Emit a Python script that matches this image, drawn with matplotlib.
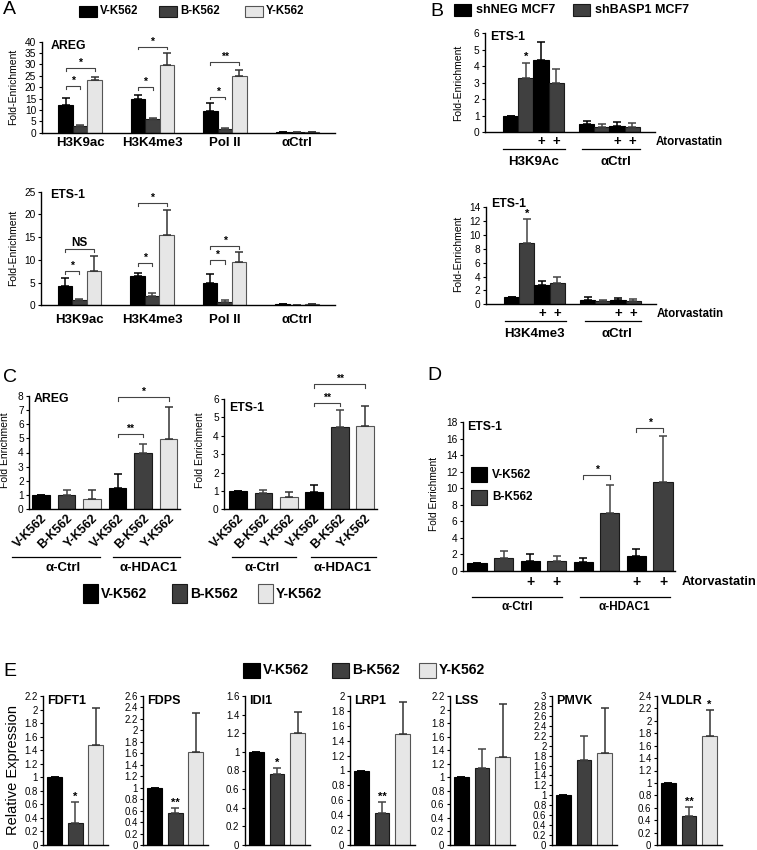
import numpy as np
import matplotlib
matplotlib.use('Agg')
import matplotlib.pyplot as plt
from matplotlib.patches import Rectangle
from matplotlib.ticker import MultipleLocator, FuncFormatter

plt.rcParams['font.family'] = ['Liberation Sans', 'DejaVu Sans']

W, H = 757, 850
BLACK = '#000000'
DARK = '#404040'
LIGHT = '#e6e6e6'

# ---------------- data ----------------
cells = ['V-K562', 'B-K562', 'Y-K562']

# A: ChIP at AREG / ETS-1 (upper error only)
a_groups = ['H3K9ac', 'H3K4me3', 'Pol II', 'αCtrl']
areg_v = [12.2, 14.7, 9.7, 0.4]
areg_v_err = [2.9, 1.9, 3.5, 0.0]
areg_b = [2.9, 5.9, 1.6, 0.4]
areg_b_err = [0.4, 0.7, 0.3, 0.0]
areg_y = [23.2, 29.8, 25.1, 0.45]
areg_y_err = [1.4, 5.4, 2.5, 0.0]
areg_sig = [(0, 'VB', 20.5, '*'), (0, 'VY', 28.3, '*'), (1, 'VB', 20.0, '*'),
            (1, 'VY', 37.8, '*'), (2, 'VB', 15.8, '*'), (2, 'VY', 31.0, '**')]

ets_v = [4.2, 6.4, 4.8, 0.2]
ets_v_err = [1.8, 0.8, 2.0, 0.0]
ets_b = [1.1, 2.1, 0.8, 0.1]
ets_b_err = [0.2, 0.5, 0.3, 0.0]
ets_y = [7.6, 15.4, 9.6, 0.3]
ets_y_err = [3.2, 5.5, 2.1, 0.0]
ets_sig = [(0, 'VB', 7.6, '*'), (0, 'VY', 12.4, 'NS'), (1, 'VB', 9.4, '*'),
           (1, 'VY', 22.5, '*'), (2, 'VB', 9.9, '*'), (2, 'VY', 13.1, '*')]

# B: shNEG / shBASP1 MCF7, +/- atorvastatin
b_cells = ['shNEG', 'shBASP1', 'shNEG', 'shBASP1', 'shNEG', 'shBASP1', 'shNEG', 'shBASP1']
b_atorva = ['', '', '+', '+', '', '', '+', '+']
b_groups_top = ['H3K9Ac', 'αCtrl']
b_groups_bot = ['H3K4me3', 'αCtrl']
b_top_vals = [1.0, 3.27, 4.36, 2.99, 0.48, 0.34, 0.40, 0.34]
b_top_errs = [0.0, 0.91, 1.14, 0.86, 0.22, 0.14, 0.22, 0.20]
b_bot_vals = [1.0, 8.9, 2.8, 3.1, 0.62, 0.45, 0.55, 0.50]
b_bot_errs = [0.0, 3.4, 0.6, 0.9, 0.38, 0.17, 0.30, 0.30]

# C: HDAC1 ChIP
c_labels = ['V-K562', 'B-K562', 'Y-K562', 'V-K562', 'B-K562', 'Y-K562']
c_groups = ['α-Ctrl', 'α-HDAC1']
c_areg_vals = [1.0, 0.98, 0.75, 1.5, 3.95, 4.95]
c_areg_errs = [0.0, 0.40, 0.58, 1.02, 0.67, 2.27]
c_ets_vals = [1.0, 0.88, 0.65, 0.93, 4.45, 4.55]
c_ets_errs = [0.0, 0.17, 0.30, 0.40, 0.93, 1.05]

# D: HDAC1 ChIP at ETS-1, +/- atorvastatin
d_cells = ['V-K562', 'B-K562'] * 4
d_atorva = ['', '', '+', '+', '', '', '+', '+']
d_groups = ['α-Ctrl', 'α-HDAC1']
d_vals = [1.0, 1.6, 1.2, 1.25, 1.1, 7.0, 1.8, 10.7]
d_errs = [0.0, 0.85, 0.85, 0.55, 0.5, 3.4, 0.85, 5.6]

# E: relative expression
e_genes = ['FDFT1', 'FDPS', 'IDI1', 'LRP1', 'LSS', 'PMVK', 'VLDLR']
e_ymax = [2.2, 2.6, 1.6, 2.0, 2.2, 3.0, 2.4]
e_v = [1.0, 1.0, 1.0, 1.0, 1.0, 1.0, 1.0]
e_b = [0.33, 0.55, 0.76, 0.43, 1.14, 1.72, 0.47]
e_b_err = [0.30, 0.10, 0.07, 0.15, 0.28, 0.48, 0.15]
e_y = [1.47, 1.63, 1.20, 1.49, 1.30, 1.85, 1.75]
e_y_err = [0.55, 0.67, 0.23, 0.43, 0.78, 0.90, 0.42]
e_b_sig = ['*', '**', '*', '**', '', '', '**']
e_y_sig = ['', '', '', '', '', '', '*']

cell_color = {'V-K562': BLACK, 'B-K562': DARK, 'Y-K562': LIGHT,
              'shNEG': BLACK, 'shBASP1': DARK}
cell_edge = {'V-K562': BLACK, 'B-K562': '#1a1a1a', 'Y-K562': '#555555',
             'shNEG': BLACK, 'shBASP1': '#1a1a1a'}
cell_ecol = {'V-K562': BLACK, 'B-K562': '#444444', 'Y-K562': '#333333',
             'shNEG': BLACK, 'shBASP1': '#444444'}

fig = plt.figure(figsize=(W / 100, H / 100), dpi=100)


def add_px(left, right, top, bottom):
    return fig.add_axes([left / W, 1 - bottom / H, (right - left) / W, (bottom - top) / H])


def ftext(x, y, s, **kw):
    fig.text(x / W, 1 - y / H, s, **kw)


def square(x, y, w, h, color, edge):
    fig.patches.append(Rectangle((x / W, 1 - (y + h) / H), w / W, h / H,
                                 transform=fig.transFigure, facecolor=color,
                                 edgecolor=edge, linewidth=0.8))


def below(ax, px):
    return -px / (ax.get_position().height * H)


def style(ax, ymax, step, fs=7.3, fmt=None):
    for s in ['top', 'right']:
        ax.spines[s].set_visible(False)
    ax.spines['left'].set_linewidth(1.0)
    ax.spines['bottom'].set_linewidth(1.0)
    ax.set_ylim(0, ymax)
    ax.yaxis.set_major_locator(MultipleLocator(step))
    if fmt:
        ax.yaxis.set_major_formatter(FuncFormatter(fmt))
    ax.tick_params(axis='y', length=2.5, width=0.8, labelsize=fs, pad=1.5)
    ax.tick_params(axis='x', length=0)


def bars(ax, x, vals, errs, cell, width):
    ax.bar(x, vals, width, color=cell_color[cell], edgecolor=cell_edge[cell],
           linewidth=0.8, zorder=2,
           yerr=[np.zeros(len(errs)), errs],
           error_kw=dict(ecolor=cell_ecol[cell], elinewidth=1.1, capsize=3, capthick=1.1))


def bracket(ax, x1, x2, y, label, fs=7.5):
    h = ax.get_ylim()[1] * 0.03
    ax.plot([x1, x1, x2, x2], [y - h, y, y, y - h], color='#444444', lw=0.8,
            clip_on=False, zorder=3)
    ax.text((x1 + x2) / 2, y, label, ha='center', va='bottom', fontsize=fs,
            fontweight='bold')


def title(ax, s, fs=8.8, dx=0.03, y=1.02):
    ax.text(dx, y, s, transform=ax.transAxes, ha='left', va='top',
            fontsize=fs, fontweight='bold')


# ---------------- panel A ----------------
ftext(3, 10, 'A', fontsize=14, va='center')
for x, lab, c in [(79, 'V-K562', 'V-K562'), (159, 'B-K562', 'B-K562'), (245, 'Y-K562', 'Y-K562')]:
    square(x, 6, 18, 11, cell_color[c], cell_edge[c])
    ftext(x + 21, 11.5, lab, fontsize=8.3, fontweight='bold', va='center')

for ax_box, ymax, data, sig, name, pad, ylab_y in [
        ((41.7, 335, 41.7, 132.7), 40, (areg_v, areg_v_err, areg_b, areg_b_err, areg_y, areg_y_err), areg_sig, 'AREG', 3.2, 87),
        ((41.0, 335, 191.7, 305.3), 25, (ets_v, ets_v_err, ets_b, ets_b_err, ets_y, ets_y_err), ets_sig, 'ETS-1', 6.0, 248)]:
    ax = add_px(*ax_box)
    style(ax, ymax, 5)
    xg = np.arange(len(a_groups))
    bars(ax, xg - 0.2, data[0], data[1], 'V-K562', 0.2)
    bars(ax, xg, data[2], data[3], 'B-K562', 0.2)
    bars(ax, xg + 0.2, data[4], data[5], 'Y-K562', 0.2)
    ax.set_xlim(-0.53, 3.52)
    ax.set_xticks(xg)
    ax.set_xticklabels(a_groups, fontsize=9.5, fontweight='bold')
    ax.tick_params(axis='x', pad=pad)
    for g, pair, yv, lab in sig:
        x2 = g + (0.0 if pair == 'VB' else 0.2)
        bracket(ax, g - 0.2, x2, yv, lab, fs=7.5 if lab != 'NS' else 8.5)
    title(ax, name)
    ftext(13.5, ylab_y, 'Fold-Enrichment', rotation=90, ha='center', va='center', fontsize=7.5)

# ---------------- panel B ----------------
ftext(430, 11, 'B', fontsize=14, va='center')
for x, lab, c in [(454, 'shNEG MCF7', 'shNEG'), (573, 'shBASP1 MCF7', 'shBASP1')]:
    square(x, 4, 17, 12, cell_color[c], cell_edge[c])
    ftext(x + 22, 10, lab, fontsize=9, fontweight='bold', va='center')

bx = np.array([0, 1, 2, 3, 5, 6, 7, 8])
for ax_box, ymax, step, vals, errs, groups, star_y, ylab_y, lines, t_y in [
        ((485, 655, 33.3, 132.3), 6, 1, b_top_vals, b_top_errs, b_groups_top, 4.25, 83,
         [(-0.5, 3.6), (4.7, 8.5)], 1.02),
        ((486, 656, 207.3, 304.3), 14, 2, b_bot_vals, b_bot_errs, b_groups_bot, 12.4, 254,
         [(-0.4, 3.6), (4.8, 8.5)], 1.1)]:
    ax = add_px(*ax_box)
    style(ax, ymax, step)
    for i in range(len(bx)):
        bars(ax, [bx[i]], [vals[i]], [errs[i]], b_cells[i], 1.0)
    ax.set_xlim(-1.68, 9.5)
    ax.set_xticks([])
    ax.text(1, star_y, '*', ha='center', va='bottom', fontsize=8, fontweight='bold')
    title(ax, 'ETS-1', dx=0.03, y=t_y)
    tr = ax.get_xaxis_transform()
    for i, a in enumerate(b_atorva):
        if a:
            ax.text(bx[i], below(ax, 9.5), a, transform=tr, ha='center', va='center',
                    fontsize=9.5, fontweight='bold')
    ax.text(9.57, below(ax, 9.5), 'Atorvastatin', transform=tr, ha='left', va='center',
            fontsize=8.3, fontweight='bold')
    for (x1, x2), lab, xc in zip(lines, groups, [1.5, 6.9]):
        ax.plot([x1, x2], [below(ax, 16.5)] * 2, transform=tr, color='black', lw=0.9, clip_on=False)
        ax.text(xc, below(ax, 29.5), lab, transform=tr, ha='center', va='center',
                fontsize=9.5, fontweight='bold')
    ftext(458.5, ylab_y, 'Fold-Enrichment', rotation=90, ha='center', va='center', fontsize=7.5)

# ---------------- panel C ----------------
ftext(3, 378, 'C', fontsize=14, va='center')
cx = np.arange(len(c_labels))
for ax_box, ymax, vals, errs, name, sig, xlim, lines, lab_x, ylab_x, tdy in [
        ((29.3, 180, 395.7, 509.3), 8, c_areg_vals, c_areg_errs, 'AREG',
         [(3, 4, 5.3, '**'), (3, 5, 7.9, '*')], (-0.46, 5.45), [(-1.14, 2.31), (2.82, 5.45)],
         [0.85, 4.2], 5, 1.02),
        ((224.3, 377, 399, 509.3), 6, c_ets_vals, c_ets_errs, 'ETS-1',
         [(3, 4, 5.8, '**'), (3, 5, 6.8, '**')], (-0.54, 5.47), [(-0.25, 2.3), (2.89, 5.45)],
         [0.94, 4.1], 200, 0.97)]:
    ax = add_px(*ax_box)
    style(ax, ymax, 1)
    for i in range(len(cx)):
        bars(ax, [cx[i]], [vals[i]], [errs[i]], c_labels[i], 0.7)
    ax.set_xlim(*xlim)
    ax.set_xticks(cx)
    ax.set_xticklabels(c_labels, rotation=45, ha='right', va='top', rotation_mode='anchor',
                       fontsize=9, fontweight='bold')
    ax.tick_params(axis='x', pad=2)
    for x1, x2, yv, lab in sig:
        bracket(ax, x1, x2, yv, lab)
    title(ax, name, dx=0.03, y=tdy)
    tr = ax.get_xaxis_transform()
    for (x1, x2), lab, xc in zip(lines, c_groups, lab_x):
        ax.plot([x1, x2], [below(ax, 48)] * 2, transform=tr, color='black', lw=0.9, clip_on=False)
        ax.text(xc, below(ax, 58.5), lab, transform=tr, ha='center', va='center',
                fontsize=9.5, fontweight='bold')
    ftext(ylab_x, 450, 'Fold Enrichment', rotation=90, ha='center', va='center', fontsize=7.5)

for x, lab, c in [(83, 'V-K562', 'V-K562'), (172, 'B-K562', 'B-K562'), (258, 'Y-K562', 'Y-K562')]:
    square(x, 584, 15, 19, cell_color[c], cell_edge[c])
    ftext(x + 18, 594, lab, fontsize=10, fontweight='bold', va='center')

# ---------------- panel D ----------------
ftext(427, 376, 'D', fontsize=14, va='center')
ax = add_px(462.7, 675, 422, 571)
style(ax, 18, 2)
dx = np.arange(len(d_vals))
for i in range(len(dx)):
    bars(ax, [dx[i]], [d_vals[i]], [d_errs[i]], d_cells[i], 0.72)
ax.set_xlim(-0.54, 7.45)
ax.set_xticks([])
bracket(ax, 4, 5, 11.6, '*')
bracket(ax, 6, 7, 17.3, '*')
title(ax, 'ETS-1', dx=0.02, y=1.01)
tr = ax.get_xaxis_transform()
for i, a in enumerate(d_atorva):
    if a:
        ax.text(dx[i], below(ax, 10.7), a, transform=tr, ha='center', va='center',
                fontsize=10, fontweight='bold')
ax.text(7.7, below(ax, 10.7), 'Atorvastatin', transform=tr, ha='left', va='center',
        fontsize=9.3, fontweight='bold')
for (x1, x2), lab, xc in zip([(-0.19, 3.2), (3.87, 7.26)], d_groups, [1.5, 5.56]):
    ax.plot([x1, x2], [below(ax, 25.7)] * 2, transform=tr, color='black', lw=0.9, clip_on=False)
    ax.text(xc, below(ax, 36), lab, transform=tr, ha='center', va='center',
            fontsize=8.5, fontweight='bold')
ftext(434, 494, 'Fold Enrichment', rotation=90, ha='center', va='center', fontsize=7.3)
for y, lab in [(467, 'V-K562'), (490, 'B-K562')]:
    square(471, y, 16, 15, cell_color[lab], cell_edge[lab])
    ftext(492, y + 7.5, lab, fontsize=8.5, fontweight='bold', va='center')

# ---------------- panel E ----------------
ftext(3, 671, 'E', fontsize=14, va='center')
for x, lab, c in [(243, 'V-K562', 'V-K562'), (332, 'B-K562', 'B-K562'), (419, 'Y-K562', 'Y-K562')]:
    square(x, 663, 17, 15, cell_color[c], cell_edge[c])
    ftext(x + 20, 670.5, lab, fontsize=10, fontweight='bold', va='center')

e_left = [43.3, 143.3, 245, 350, 450, 552, 657]
for k, gene in enumerate(e_genes):
    ax = add_px(e_left[k], e_left[k] + 65, 696, 845)
    style(ax, e_ymax[k], 0.2, fs=6.9, fmt=lambda v, p: f'{round(v, 1):g}')
    bars(ax, [0], [e_v[k]], [0.0], 'V-K562', 0.72)
    bars(ax, [1], [e_b[k]], [e_b_err[k]], 'B-K562', 0.72)
    bars(ax, [2], [e_y[k]], [e_y_err[k]], 'Y-K562', 0.72)
    ax.set_xlim(-0.55, 2.6)
    ax.set_xticks([])
    if e_b_sig[k]:
        ax.text(1, e_b[k] + e_b_err[k], e_b_sig[k], ha='center', va='bottom',
                fontsize=8, fontweight='bold')
    if e_y_sig[k]:
        ax.text(2, e_y[k] + e_y_err[k], e_y_sig[k], ha='center', va='bottom',
                fontsize=8, fontweight='bold')
    title(ax, gene, fs=9, dx=0.06, y=1.01)
ftext(13, 770, 'Relative Expression', rotation=90, ha='center', va='center', fontsize=10.5)

fig.savefig('out.png', dpi=100)
